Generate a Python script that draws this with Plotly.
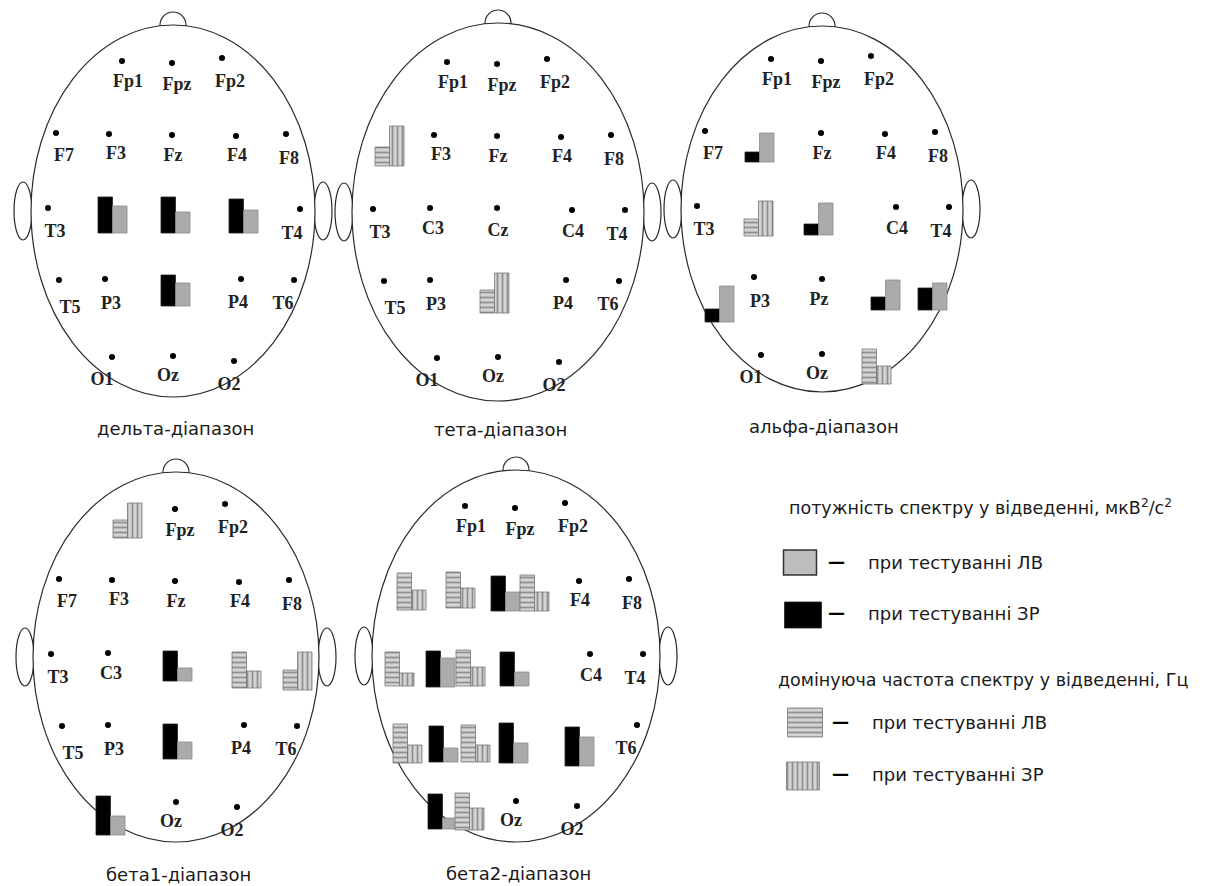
import plotly.graph_objects as go

# ---------------- data ----------------
BAND_TITLES = ["дельта-діапазон", "тета-діапазон", "альфа-діапазон",
               "бета1-діапазон", "бета2-діапазон"]
ELECTRODES = ["Fp1", "Fpz", "Fp2", "F7", "F3", "Fz", "F4", "F8",
              "T3", "C3", "Cz", "C4", "T4", "T5", "P3", "Pz", "P4", "T6",
              "O1", "Oz", "O2"]

# spectral power (ЗР – black, ЛВ – gray), relative bar heights
DELTA_POWER_SITES = ["C3", "Cz", "C4", "Pz"]
DELTA_POWER_ZR = [36, 36, 34, 31]
DELTA_POWER_LV = [27, 21, 23, 23]

ALPHA_POWER_SITES = ["F3", "Cz", "T5", "P4", "T6"]
ALPHA_POWER_ZR = [10, 11, 13, 13, 22]
ALPHA_POWER_LV = [29, 32, 36, 30, 27]

BETA1_POWER_SITES = ["Cz", "Pz", "O1"]
BETA1_POWER_ZR = [30, 35, 39]
BETA1_POWER_LV = [13, 17, 19]

BETA2_POWER_SITES = ["Fz", "C3", "Cz", "P3", "Pz", "P4", "O1"]
BETA2_POWER_ZR = [35, 36, 34, 36, 40, 39, 35]
BETA2_POWER_LV = [19, 29, 14, 14, 20, 29, 11]

# dominant frequency (ЛВ – horizontal hatch, ЗР – vertical hatch)
THETA_FREQ_SITES = ["F7", "Pz"]
THETA_FREQ_LV = [19, 23]
THETA_FREQ_ZR = [40, 40]

ALPHA_FREQ_SITES = ["C3", "O2"]
ALPHA_FREQ_LV = [17, 35]
ALPHA_FREQ_ZR = [35, 18]

BETA1_FREQ_SITES = ["Fp1", "C4", "T4"]
BETA1_FREQ_LV = [18, 36, 20]
BETA1_FREQ_ZR = [35, 17, 38]

BETA2_FREQ_SITES = ["F7", "F3", "Fz", "T3", "C3", "T5", "P3", "O1"]
BETA2_FREQ_LV = [37, 36, 36, 34, 36, 39, 37, 37]
BETA2_FREQ_ZR = [20, 20, 19, 13, 19, 18, 17, 22]

POWER = [
    (DELTA_POWER_SITES, DELTA_POWER_ZR, DELTA_POWER_LV),
    ([], [], []),
    (ALPHA_POWER_SITES, ALPHA_POWER_ZR, ALPHA_POWER_LV),
    (BETA1_POWER_SITES, BETA1_POWER_ZR, BETA1_POWER_LV),
    (BETA2_POWER_SITES, BETA2_POWER_ZR, BETA2_POWER_LV),
]
FREQ = [
    ([], [], []),
    (THETA_FREQ_SITES, THETA_FREQ_LV, THETA_FREQ_ZR),
    (ALPHA_FREQ_SITES, ALPHA_FREQ_LV, ALPHA_FREQ_ZR),
    (BETA1_FREQ_SITES, BETA1_FREQ_LV, BETA1_FREQ_ZR),
    (BETA2_FREQ_SITES, BETA2_FREQ_LV, BETA2_FREQ_ZR),
]

# ---------------- layout (pixel geometry) ----------------
W, H = 1207, 886
HEADS = [(173, 211, 142, 186), (498, 212, 146, 189), (822, 209, 141, 183),
         (176, 657, 143, 185), (516, 656, 144, 186)]
ELEC_POS = {
    "Fp1": (-51, -150), "Fpz": (-1, -148), "Fp2": (49, -153),
    "F7": (-117, -78), "F3": (-64, -77), "Fz": (-1, -76), "F4": (63, -75), "F8": (113, -77),
    "T3": (-125, -3), "C3": (-68, -4), "Cz": (-1, -4), "C4": (74, -2), "T4": (127, -2),
    "T5": (-114, 69), "P3": (-68, 68), "Pz": (0, 70), "P4": (68, 68), "T6": (121, 69),
    "O1": (-61, 146), "Oz": (0, 145), "O2": (61, 150),
}
LABEL_OFF = {
    "Fp1": (6, 21), "Fpz": (5, 22), "Fp2": (8, 24), "F7": (8, 23), "F3": (7, 20),
    "Fz": (1, 21), "F4": (1, 20), "F8": (3, 25), "T3": (7, 24), "C3": (3, 21),
    "Cz": (1, 23), "C4": (1, 22), "T4": (-8, 25), "T5": (11, 28), "P3": (6, 25),
    "Pz": (-3, 21), "P4": (-3, 24), "T6": (-11, 24), "O1": (-10, 23), "Oz": (-5, 20),
    "O2": (-5, 24),
}
# glyph anchor: (left x, bottom y) relative to head centre
GLYPH_OFF = {
    (0, "P", "C3"): (-75, 22), (0, "P", "Cz"): (-12, 22), (0, "P", "C4"): (56, 22),
    (0, "P", "Pz"): (-12, 95),
    (1, "F", "F7"): (-123, -46), (1, "F", "Pz"): (-18, 101),
    (2, "P", "F3"): (-77, -47), (2, "F", "C3"): (-78, 27), (2, "P", "Cz"): (-18, 26),
    (2, "P", "T5"): (-117, 113), (2, "P", "P4"): (49, 101), (2, "P", "T6"): (96, 101),
    (2, "F", "O2"): (40, 175),
    (3, "F", "Fp1"): (-63, -119), (3, "P", "Cz"): (-13, 24), (3, "F", "C4"): (56, 31),
    (3, "F", "T4"): (107, 33), (3, "P", "Pz"): (-13, 102), (3, "P", "O1"): (-80, 178),
    (4, "F", "F7"): (-119, -46), (4, "F", "F3"): (-70, -48), (4, "P", "Fz"): (-25, -45),
    (4, "F", "Fz"): (4, -45), (4, "F", "T3"): (-131, 30), (4, "P", "C3"): (-90, 31),
    (4, "F", "C3"): (-60, 30), (4, "P", "Cz"): (-16, 30), (4, "F", "T5"): (-123, 107),
    (4, "P", "P3"): (-87, 106), (4, "F", "P3"): (-55, 106), (4, "P", "Pz"): (-17, 107),
    (4, "P", "P4"): (49, 110), (4, "P", "O1"): (-88, 173), (4, "F", "O1"): (-61, 174),
}
BW = 14.5
SERIF = "Liberation Serif"
SANS = "DejaVu Sans"
INK = "#1a1a1a"

fig = go.Figure()
shapes = []

# heads
for (cx, cy, rx, ry) in HEADS:
    line = dict(color="#2a2a2a", width=1.2)
    shapes.append(dict(type="circle", xref="x", yref="y", layer="below",
                       x0=cx - 13, x1=cx + 13, y0=cy - ry - 13, y1=cy - ry + 13,
                       line=line, fillcolor="white"))
    for side in (-1, 1):
        ex = cx + side * (rx + 8)
        shapes.append(dict(type="circle", xref="x", yref="y", layer="below",
                           x0=ex - 9, x1=ex + 9, y0=cy - 29, y1=cy + 29,
                           line=line, fillcolor="white"))
    shapes.append(dict(type="circle", xref="x", yref="y", layer="below",
                       x0=cx - rx, x1=cx + rx, y0=cy - ry, y1=cy + ry,
                       line=line, fillcolor="white"))

# electrodes
dot_x, dot_y, lab_x, lab_y, lab_t = [], [], [], [], []
for b, (cx, cy, rx, ry) in enumerate(HEADS):
    used = set(POWER[b][0]) | set(FREQ[b][0])
    for e in ELECTRODES:
        if e in used:
            continue
        dx, dy = ELEC_POS[e]
        lx, ly = LABEL_OFF[e]
        dot_x.append(cx + dx)
        dot_y.append(cy + dy)
        lab_x.append(cx + dx + lx)
        lab_y.append(cy + dy + ly)
        lab_t.append(e)

fig.add_trace(go.Scatter(x=dot_x, y=dot_y, mode="markers",
                         marker=dict(size=6, color="black"), hoverinfo="skip"))
fig.add_trace(go.Scatter(x=lab_x, y=lab_y, mode="text", text=lab_t,
                         textfont=dict(family=SERIF, size=18, color="#222",
                                       weight="bold"),
                         textposition="middle center", hoverinfo="skip"))

# bars
bars = {"zr": ([], [], []), "lv": ([], [], []), "hf": ([], [], []), "vf": ([], [], [])}
for b, (cx, cy, rx, ry) in enumerate(HEADS):
    sites, zr, lv = POWER[b]
    for s, v1, v2 in zip(sites, zr, lv):
        ox, oy = GLYPH_OFF[(b, "P", s)]
        for key, v, k in (("zr", v1, 0), ("lv", v2, 1)):
            bars[key][0].append(cx + ox + BW * (k + 0.5))
            bars[key][1].append(cy + oy)
            bars[key][2].append(-v)
    sites, flv, fzr = FREQ[b]
    for s, v1, v2 in zip(sites, flv, fzr):
        ox, oy = GLYPH_OFF[(b, "F", s)]
        for key, v, k in (("hf", v1, 0), ("vf", v2, 1)):
            bars[key][0].append(cx + ox + BW * (k + 0.5))
            bars[key][1].append(cy + oy)
            bars[key][2].append(-v)

# legend swatches
LEG = {"lv": (800, 575, 25, 33), "zr": (803, 628, 26, 37),
       "hf": (805, 737, 29, 35), "vf": (803, 790, 28, 33)}

styles = {
    "zr": dict(color="black", line=dict(color="#222", width=0.8)),
    "lv": dict(color="#ababab", line=dict(color="#8a8a8a", width=0.8)),
    "hf": dict(color="#cfcfcf", line=dict(color="#777", width=0.8),
               pattern=dict(shape="-", fgcolor="#4a4a4a", bgcolor="#d4d4d4",
                            size=5, solidity=0.35)),
    "vf": dict(color="#cfcfcf", line=dict(color="#777", width=0.8),
               pattern=dict(shape="|", fgcolor="#4a4a4a", bgcolor="#d4d4d4",
                            size=5, solidity=0.35)),
}
for key, (xs, bs, ys) in bars.items():
    fig.add_trace(go.Bar(x=xs, base=bs, y=ys, width=[BW] * len(xs),
                         marker=styles[key], hoverinfo="skip"))
    lx, lb, lh, lw = LEG[key]
    st = dict(styles[key])
    if key == "lv":
        st = dict(color="#bdbdbd", line=dict(color="#333", width=1.5))
    fig.add_trace(go.Bar(x=[lx], base=[lb], y=[-lh], width=[lw],
                         marker=st, hoverinfo="skip"))

ann = []
for b, (cx, cy, rx, ry) in enumerate(HEADS):
    ann.append(dict(x=cx + 2, y=cy + 217, text=BAND_TITLES[b],
                    xanchor="center",
                    font=dict(family=SANS, size=18, color=INK)))

ann += [
    dict(x=980, y=507, text="потужність спектру у відведенні, мкВ<sup>2</sup>/с<sup>2</sup>",
         xanchor="center", font=dict(family=SANS, size=17.5, color=INK)),
    dict(x=983, y=680, text="домінуюча частота спектру у відведенні, Гц",
         xanchor="center", font=dict(family=SANS, size=17.5, color=INK)),
]
for (dx, tx, y, t) in [(836, 866, 562, "при тестуванні ЛВ"),
                       (836, 866, 613, "при тестуванні ЗР"),
                       (840, 870, 722, "при тестуванні ЛВ"),
                       (840, 870, 774, "при тестуванні ЗР")]:
    ann.append(dict(x=dx, y=y, text="—", xanchor="center",
                    font=dict(family=SANS, size=17, color="black", weight="bold")))
    ann.append(dict(x=tx, y=y, text=t, xanchor="left",
                    font=dict(family=SANS, size=18, color=INK)))
for a in ann:
    a["showarrow"] = False
    a["yanchor"] = "middle"
    a["xref"] = "x"
    a["yref"] = "y"

fig.update_layout(
    width=W, height=H, margin=dict(l=0, r=0, t=0, b=0),
    paper_bgcolor="white", plot_bgcolor="white",
    showlegend=False, barmode="overlay",
    xaxis=dict(range=[0, W], visible=False, fixedrange=True),
    yaxis=dict(range=[H, 0], visible=False, fixedrange=True),
    shapes=shapes, annotations=ann,
)
fig.write_html("out.html", config={"displayModeBar": False},
               post_script="document.body.style.margin='0';")
